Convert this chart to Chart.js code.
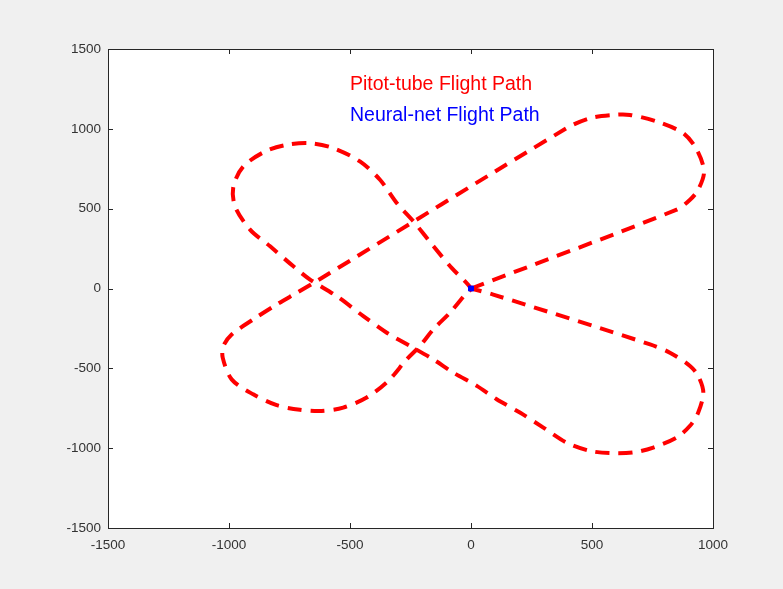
<!DOCTYPE html>
<html>
<head>
<meta charset="utf-8">
<script src="https://cdn.jsdelivr.net/npm/chart.js@4.4.1/dist/chart.umd.min.js"></script>
<style>
    html, body { margin: 0; padding: 0; background: #f0f0f0; }
    #wrap { width: 783px; height: 589px; }
</style>
</head>
<body>
<div id="wrap"><canvas id="pathChart"></canvas></div>
<script>
// ---- data ----
const pitotX = [
    0, 850, 905, 939, 963, 933, 877, 767, 657, 588, 492, 395,
    -638, -720, -803, -900, -989, -1023, -1026, -989, -900, -803, -707, -617, -528, -431, -342, -266, -211, -156, -87, -18, 0,
    -80, -155, -238, -307, -376, -459, -569, -665, -762, -851, -941, -982, -975, -913, -830, -734, -665,
    -555, -445, -348, -252, -156, -73, 24, 106, 202, 299, 395, 492, 574, 671, 753, 850, 905, 939, 960, 939, 905, 822, 740, 92, 0
];
const pitotY = [
    0, 494, 556, 619, 733, 869, 973, 1046, 1087, 1087, 1067, 1004,
    46, -27, -100, -194, -288, -360, -433, -569, -663, -731, -760, -767, -746, -683, -579, -444, -360, -256, -152, -27, 0,
    129, 264, 421, 536, 681, 796, 879, 910, 900, 858, 764, 639, 514, 369, 264, 139, 56,
    -48, -173, -277, -360, -444, -527, -610, -694, -777, -871, -965, -1017, -1031, -1027, -996, -933, -860, -777, -652, -548, -485, -402, -350, -38, 0
];
const neuralX = [0];
const neuralY = [0];

const xTicks = [-1500, -1000, -500, 0, 500, 1000];
const yTicks = [-1500, -1000, -500, 0, 500, 1000, 1500];

const seriesNames = ['Pitot-tube Flight Path', 'Neural-net Flight Path'];
const seriesColors = ['#ff0000', '#0000ff'];

const FONT = "'Liberation Sans', Arial, Helvetica, sans-serif";

function toPoints(xs, ys) {
    return xs.map((x, i) => ({ x: x, y: ys[i] }));
}

// white axes box, then dark frame with inward ticks on all four sides
const matlabAxes = {
    id: 'matlabAxes',
    beforeDatasetsDraw(chart) {
        const a = chart.chartArea;
        const ctx = chart.ctx;
        ctx.save();
        ctx.fillStyle = '#ffffff';
        ctx.fillRect(a.left, a.top, a.right - a.left, a.bottom - a.top);
        ctx.restore();
    },
    afterDraw(chart) {
        const a = chart.chartArea;
        const ctx = chart.ctx;
        const xs = chart.scales.x;
        const ys = chart.scales.y;
        const tl = 5;
        ctx.save();
        ctx.strokeStyle = '#262626';
        ctx.lineWidth = 1;
        ctx.strokeRect(Math.round(a.left) + 0.5, Math.round(a.top) + 0.5,
            Math.round(a.right - a.left), Math.round(a.bottom - a.top));
        ctx.beginPath();
        xTicks.forEach(v => {
            const px = Math.round(xs.getPixelForValue(v)) + 0.5;
            ctx.moveTo(px, a.bottom); ctx.lineTo(px, a.bottom - tl);
            ctx.moveTo(px, a.top); ctx.lineTo(px, a.top + tl);
        });
        yTicks.forEach(v => {
            const py = Math.round(ys.getPixelForValue(v)) + 0.5;
            ctx.moveTo(a.left, py); ctx.lineTo(a.left + tl, py);
            ctx.moveTo(a.right, py); ctx.lineTo(a.right - tl, py);
        });
        ctx.stroke();

        // text labels inside the axes
        ctx.font = '19.5px ' + FONT;
        ctx.textAlign = 'left';
        ctx.textBaseline = 'middle';
        const lx = xs.getPixelForValue(-500);
        [1280, 1085].forEach((v, i) => {
            ctx.fillStyle = seriesColors[i];
            ctx.fillText(seriesNames[i], lx, ys.getPixelForValue(v));
        });
        ctx.restore();
    }
};

new Chart(document.getElementById('pathChart'), {
    type: 'scatter',
    data: {
        datasets: [{
            label: seriesNames[0],
            data: toPoints(pitotX, pitotY),
            showLine: true,
            borderColor: seriesColors[0],
            borderWidth: 4,
            borderDash: [14, 9],
            tension: 0.3,
            pointRadius: 0,
            fill: false,
            order: 2
        }, {
            label: seriesNames[1],
            data: toPoints(neuralX, neuralY),
            showLine: false,
            backgroundColor: seriesColors[1],
            borderColor: seriesColors[1],
            borderWidth: 1,
            pointStyle: 'rect',
            pointRadius: 3.5,
            order: 1
        }]
    },
    options: {
        responsive: true,
        maintainAspectRatio: false,
        animation: false,
        layout: {
            padding: { left: 48, right: 70, top: 49, bottom: 31 }
        },
        plugins: {
            legend: { display: false },
            tooltip: { enabled: false }
        },
        scales: {
            x: {
                type: 'linear',
                min: -1500,
                max: 1000,
                afterBuildTicks: function(scale) {
                    scale.ticks = xTicks.map(v => ({ value: v }));
                },
                afterFit: function(scale) { scale.height = 30; },
                grid: { display: false, drawTicks: false },
                border: { display: false },
                ticks: {
                    padding: 9,
                    color: '#333333',
                    maxRotation: 0,
                    font: { family: FONT, size: 13.5 },
                    callback: value => String(value)
                }
            },
            y: {
                type: 'linear',
                min: -1500,
                max: 1500,
                afterBuildTicks: function(scale) {
                    scale.ticks = yTicks.map(v => ({ value: v }));
                },
                afterFit: function(scale) { scale.width = 60; },
                grid: { display: false, drawTicks: false },
                border: { display: false },
                ticks: {
                    padding: 7,
                    color: '#333333',
                    font: { family: FONT, size: 13.5 },
                    callback: value => String(value)
                }
            }
        }
    },
    plugins: [matlabAxes]
});
</script>
</body>
</html>
